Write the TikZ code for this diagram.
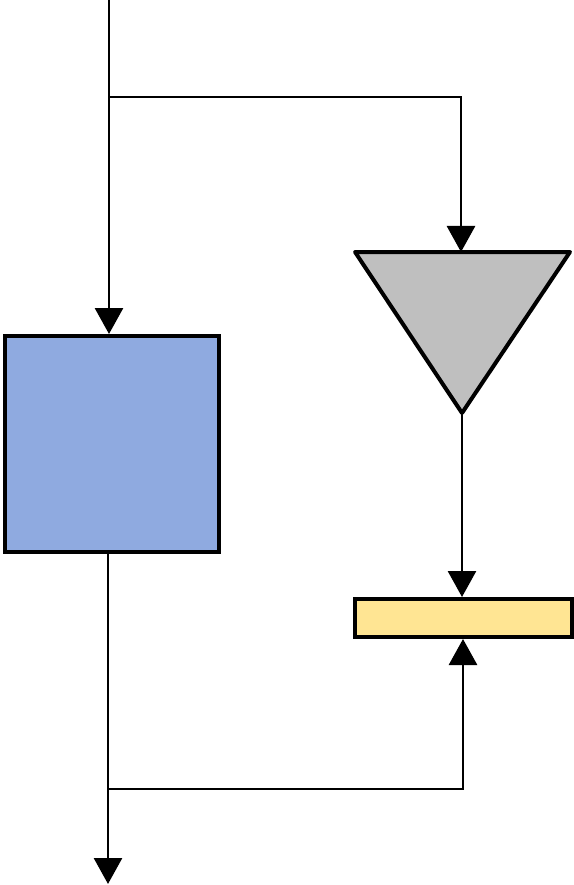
\documentclass[tikz,border=0pt]{standalone}
\usetikzlibrary{arrows.meta}
\definecolor{boxblue}{RGB}{143,170,224}
\definecolor{trigray}{RGB}{191,191,191}
\definecolor{baryellow}{RGB}{255,229,147}
\tikzset{
  flow/.style={line width=2.8pt, -{Triangle[width=28pt,length=26pt]}},
  shapeline/.style={draw=black, line width=4pt},
}
\begin{document}
\begin{tikzpicture}[x=1pt,y=-1pt]
\useasboundingbox (0,0) rectangle (573,885);
% blue box
\node[shapeline, fill=boxblue, minimum width=214pt, minimum height=216pt, inner sep=0pt, anchor=north west] (box) at (3,334) {};
% yellow bar
\node[shapeline, fill=baryellow, minimum width=217pt, minimum height=38pt, inner sep=0pt, anchor=north west] (bar) at (353,597) {};
% triangle
\coordinate (tl) at (355,252);
\coordinate (tr) at (570,252);
\coordinate (tapex) at (462,413);
\coordinate (ttop) at (461,252);
\draw[shapeline, line join=round, fill=trigray] (tl) -- (tr) -- (tapex) -- cycle;
% connectors
\coordinate (in) at (109,0);
\coordinate (split) at (109,97);
\coordinate (out) at (108,884);
\coordinate (join) at (108,789);
\draw[flow] (in) -- (box.north -| in);
\draw[flow] (split) -- (461,97) -- (ttop);
\draw[flow] (tapex) -- (bar.north -| tapex);
\draw[flow] (box.south -| out) -- (out);
\draw[flow] (join) -- (463,789) -- (bar.south -| 463,0);
\end{tikzpicture}
\end{document}
